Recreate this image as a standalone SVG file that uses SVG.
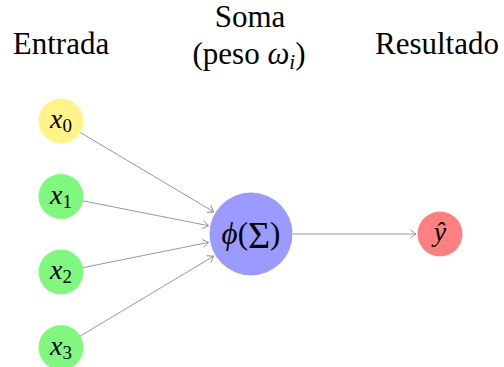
<svg xmlns="http://www.w3.org/2000/svg" width="504" height="367" viewBox="0 0 504 367">
  <style>
    svg g text, svg g text tspan, text { font-family: "Liberation Serif", "Times New Roman", serif !important; }
    .hdr { font-size: 31px; fill: #000; text-anchor: middle; }
    .math { font-style: italic; fill: #000; text-anchor: middle; }
    .up { font-style: normal; }
    .edge { fill: none; stroke: #8c8c8c; stroke-width: 0.9; }
  </style>
  <defs>
    <marker id="tip" markerUnits="userSpaceOnUse" markerWidth="10" markerHeight="10" refX="7" refY="5" orient="auto">
      <path d="M1.5,1 Q5.8,4 7,5 Q5.8,6 1.5,9" fill="none" stroke="#8c8c8c" stroke-width="0.9"/>
    </marker>
  </defs>

  <g id="headings">
    <text class="hdr" style="font-family: 'Liberation Serif', serif !important" x="61" y="54">Entrada</text>
    <text class="hdr" style="font-family: 'Liberation Serif', serif !important" x="250" y="27">Soma</text>
    <text class="hdr" style="font-family: 'Liberation Serif', serif !important" x="249" y="64">(peso <tspan font-style="italic">ω</tspan><tspan font-style="italic" font-size="21" dy="5">i</tspan><tspan dy="-5">)</tspan></text>
    <text class="hdr" style="font-family: 'Liberation Serif', serif !important" x="437" y="54">Resultado</text>
  </g>

  <g id="edges">
    <line class="edge" marker-end="url(#tip)" x1="80.3" y1="132.5" x2="213.5" y2="211.7"/>
    <line class="edge" marker-end="url(#tip)" x1="83.1" y1="200.9" x2="208.5" y2="225.7"/>
    <line class="edge" marker-end="url(#tip)" x1="83.1" y1="267.6" x2="208.5" y2="242.4"/>
    <line class="edge" marker-end="url(#tip)" x1="80.3" y1="336.0" x2="213.5" y2="256.3"/>
    <line class="edge" marker-end="url(#tip)" x1="293" y1="234" x2="416" y2="234"/>
  </g>

  <g id="x0">
    <circle cx="61" cy="121" r="22.5" fill="#fff38a"/>
    <text class="math" style="font-family: 'Liberation Serif', serif !important" x="61" y="128" font-size="28">x<tspan class="up" font-size="19" dy="4">0</tspan></text>
  </g>
  <g id="x1">
    <circle cx="61" cy="196.5" r="22.5" fill="#80f880"/>
    <text class="math" style="font-family: 'Liberation Serif', serif !important" x="61" y="203.5" font-size="28">x<tspan class="up" font-size="19" dy="4">1</tspan></text>
  </g>
  <g id="x2">
    <circle cx="61" cy="272" r="22.5" fill="#80f880"/>
    <text class="math" style="font-family: 'Liberation Serif', serif !important" x="61" y="279" font-size="28">x<tspan class="up" font-size="19" dy="4">2</tspan></text>
  </g>
  <g id="x3">
    <circle cx="61" cy="347.5" r="22.5" fill="#80f880"/>
    <text class="math" style="font-family: 'Liberation Serif', serif !important" x="61" y="354.5" font-size="28">x<tspan class="up" font-size="19" dy="4">3</tspan></text>
  </g>

  <g id="sum">
    <circle cx="251" cy="234" r="41.5" fill="#9a9aff"/>
    <text class="math" style="font-family: 'Liberation Serif', serif !important" x="251" y="244" font-size="31">ϕ<tspan class="up">(</tspan><tspan class="up" font-size="38" dy="4">Σ</tspan><tspan class="up" dy="-4">)</tspan></text>
  </g>

  <g id="yhat">
    <circle cx="440" cy="234" r="22.5" fill="#ff8080"/>
    <text class="math" style="font-family: 'Liberation Serif', serif !important" x="440" y="241" font-size="28">ŷ</text>
  </g>
</svg>
